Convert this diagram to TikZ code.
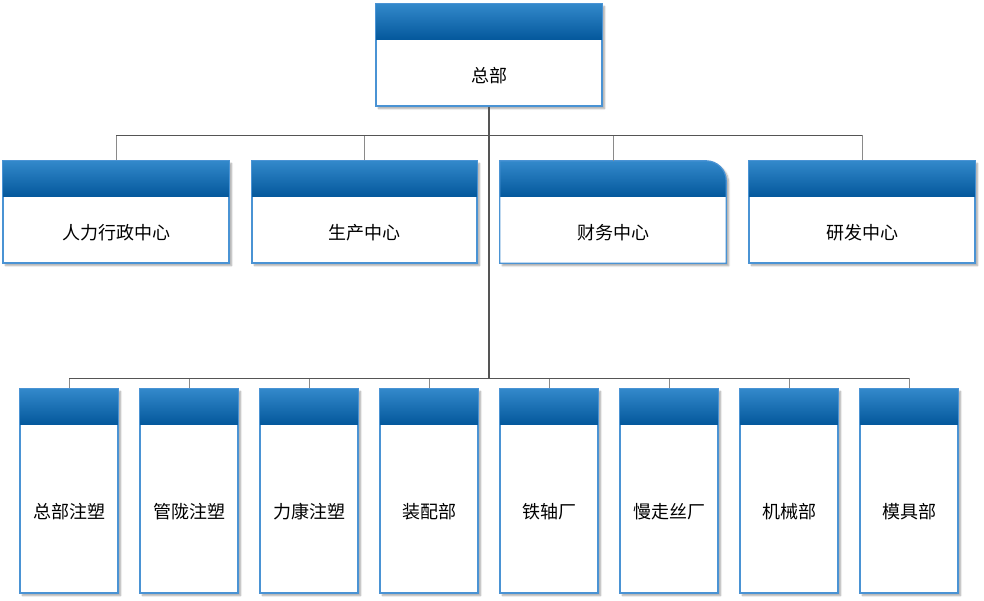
\documentclass[tikz,border=0pt]{standalone}
\usepackage{fontspec}
\newfontfamily\cjk{Noto Sans CJK SC}
\usetikzlibrary{fit,shadows.blur,calc}
\definecolor{hdtop}{HTML}{3389CB}
\definecolor{hdbot}{HTML}{04589C}
\definecolor{bord}{HTML}{4A93D4}
\definecolor{trunkc}{HTML}{555555}
\definecolor{branchc}{HTML}{8A8A8A}
\tikzset{
  boxbody/.style={inner sep=0pt, draw=bord, line width=1.2pt, fill=white,
    blur shadow={shadow xshift=2.5pt, shadow yshift=-2.5pt, shadow blur steps=6, shadow opacity=35}},
  header/.style={top color=hdtop, bottom color=hdbot},
  lbl/.style={font=\cjk\fontsize{18pt}{20pt}\selectfont, text=black, inner sep=1pt},
  trunk/.style={draw=trunkc, line width=1.8pt},
  branch/.style={draw=branchc, line width=1pt},
}
% #1 name, #2 left, #3 top, #4 right, #5 bottom, #6 text
\newcommand\obox[6]{%
  \node[boxbody, fit={(#2,#3) (#4,#5)}] (#1) {};
  \shade[header] (#1.north west) rectangle ([yshift=-36pt]#1.north east);
  \draw[draw=bord, line width=1.2pt] (#1.north west) rectangle (#1.south east);
  \node[lbl] (#1-t) at ([yshift=-20.5pt]$(#1.center)$) {#6};
}
\begin{document}
\begin{tikzpicture}[x=1pt,y=-1pt]
\useasboundingbox (0,0) rectangle (984,601);
% connectors
\coordinate (h1) at (489,136);
\coordinate (h2) at (489,378);
% boxes
\obox{top}{376}{4}{602}{106}{总部}
\obox{m1}{3}{161}{229}{263}{人力行政中心}
\obox{m2}{252}{161}{477}{263}{生产中心}
% rounded-corner finance box
\node[inner sep=0pt, fit={(500,161) (726,263)}] (m3) {};
\fill[white, blur shadow={shadow xshift=2.5pt, shadow yshift=-2.5pt, shadow blur steps=6, shadow opacity=35}]
  (m3.south west) -- (m3.north west) -- ([xshift=-20pt]m3.north east) arc[start angle=90,end angle=0,radius=20pt] -- (m3.south east) -- cycle;
\shade[header] (m3.north west) -- ([xshift=-20pt]m3.north east) arc[start angle=90,end angle=0,radius=20pt] -- ([yshift=-36pt]m3.north east) -- ([yshift=-36pt]m3.north west) -- cycle;
\draw[draw=bord, line width=1.2pt] (m3.south west) -- (m3.north west) -- ([xshift=-20pt]m3.north east) arc[start angle=90,end angle=0,radius=20pt] -- (m3.south east) -- cycle;
\node[lbl] (m3-t) at ([yshift=-20.5pt]m3.center) {财务中心};
\obox{m4}{749}{161}{975}{263}{研发中心}
\obox{b1}{20}{389}{118}{593}{总部注塑}
\obox{b2}{140}{389}{238}{593}{管陇注塑}
\obox{b3}{260}{389}{358}{593}{力康注塑}
\obox{b4}{380}{389}{478}{593}{装配部}
\obox{b5}{500}{389}{598}{593}{铁轴厂}
\obox{b6}{620}{389}{718}{593}{慢走丝厂}
\obox{b7}{740}{389}{838}{593}{机械部}
\obox{b8}{860}{389}{958}{593}{模具部}
% lines
\draw[branch] (m1.north) |- (h1) -| (m4.north);
\draw[branch] (m2.north) -- (m2.north |- h1);
\draw[branch] (m3.north) -- (m3.north |- h1);
\draw[branch] (b1.north) |- (h2) -| (b8.north);
\foreach \i in {2,...,7}{\draw[branch] (b\i.north) -- (b\i.north |- h2);}
\draw[trunkc, line width=1pt] (m1.north |- h1) -- (m4.north |- h1);
\draw[trunkc, line width=1pt] (b1.north |- h2) -- (b8.north |- h2);
\draw[trunk] (top.south) -- (h2);
\end{tikzpicture}
\end{document}
